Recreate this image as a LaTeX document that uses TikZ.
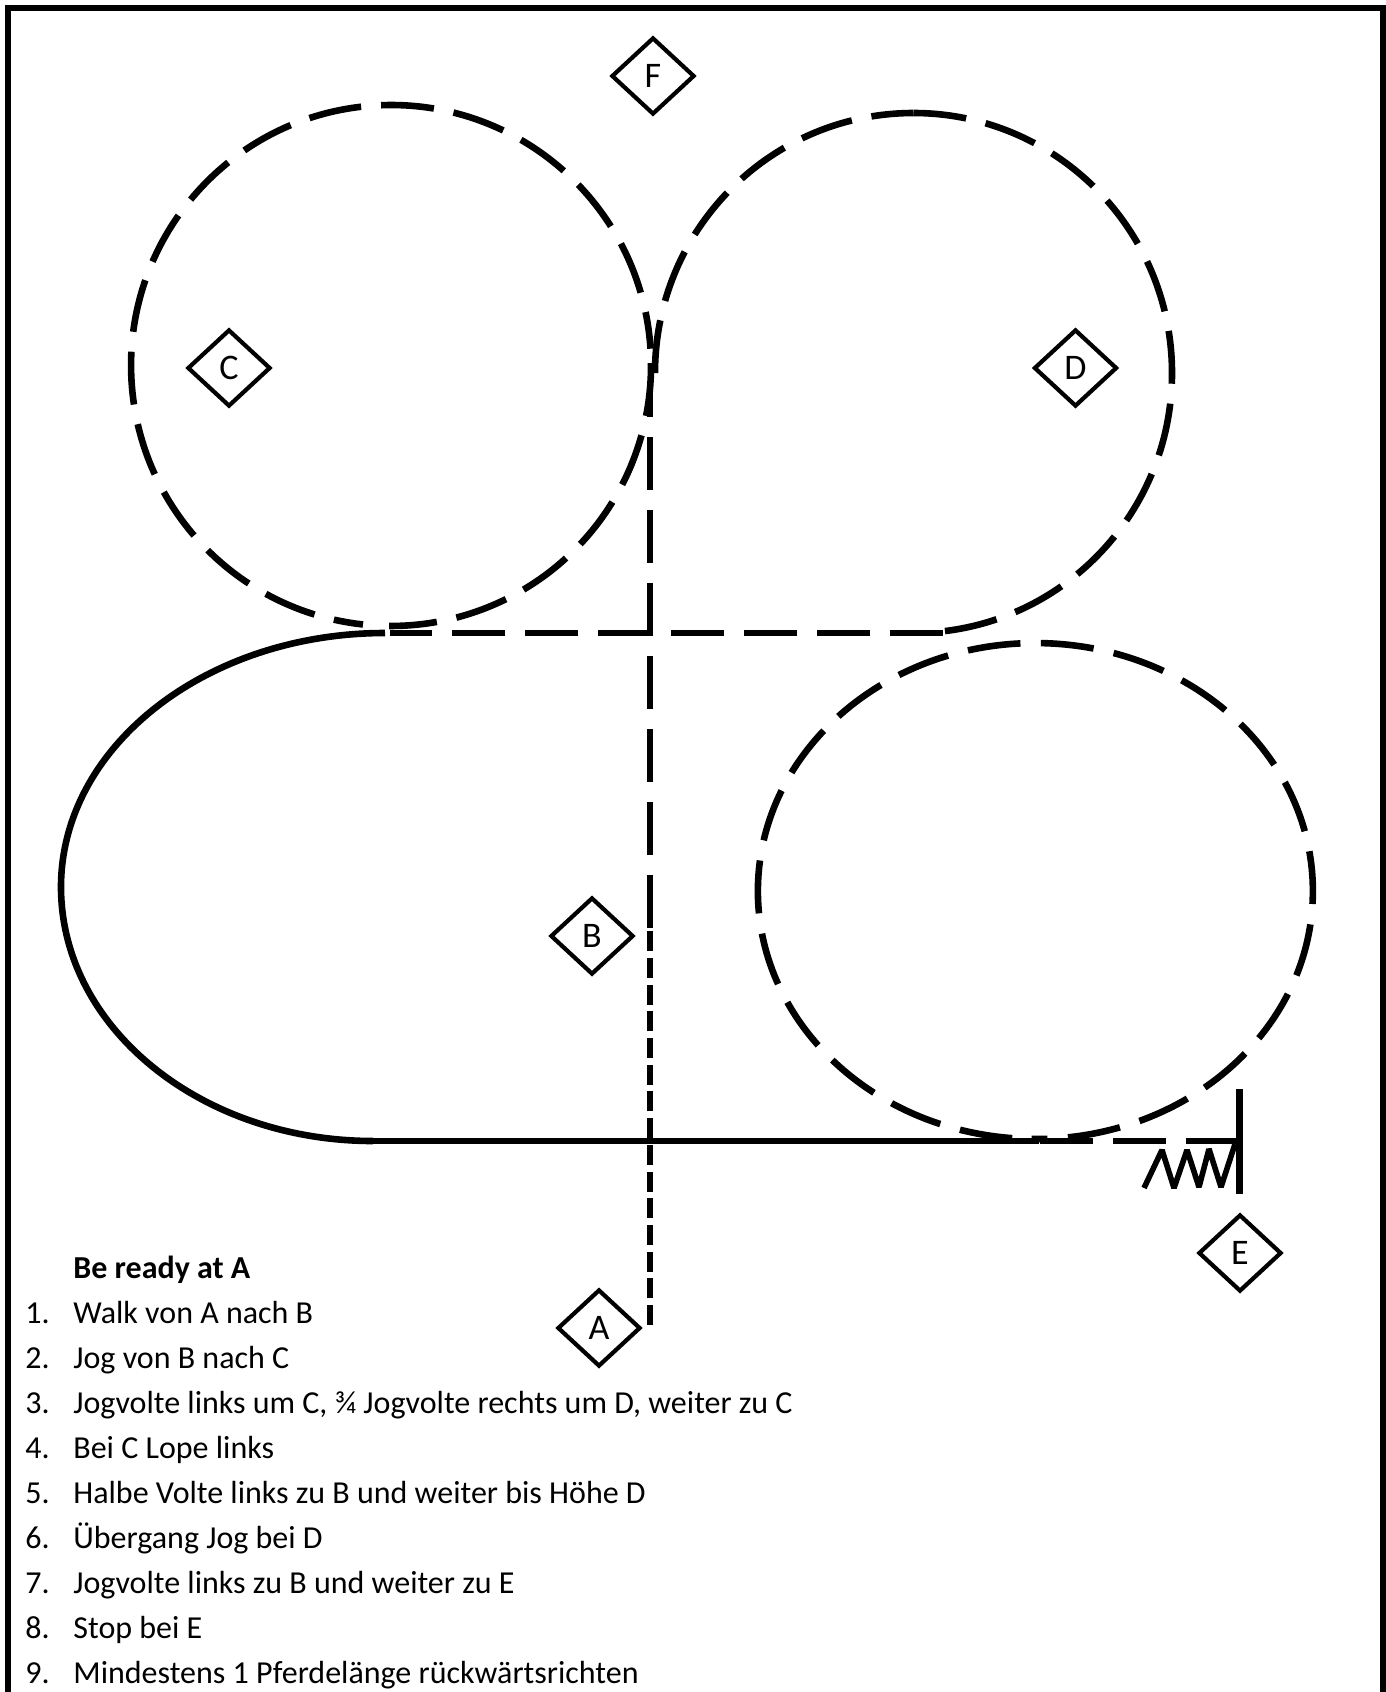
\documentclass[tikz,border=0pt]{standalone}
\usepackage{fontspec}
\setmainfont{Carlito}
\usetikzlibrary{shapes.geometric}
\tikzset{
	marker/.style={shape=diamond,draw,line width=2.1pt,minimum width=41.5pt,minimum height=38.5pt,inner sep=0pt,font=\fontsize{18}{18}\selectfont},
	longdash/.style={line width=3.3pt,dash pattern=on 26.5pt off 10pt},
	shortdash/.style={line width=3.3pt,dash pattern=on 10pt off 3.35pt},
	solidline/.style={line width=3.3pt},
	listline/.style={anchor=base west,inner sep=0pt,font=\fontsize{16}{16}\selectfont}
}
\begin{document}
\begin{tikzpicture}[x=0.5pt,y=-0.5pt,line join=miter]
	\useasboundingbox (0,0) rectangle (1386,1692);
	\draw[line width=3pt](8,1700)--(8,8)--(1383,8)--(1383,1700);
	% markers
	\node[marker] (F) at (653,76) {F};
	\node[marker] (C) at (229,368) {C};
	\node[marker] (D) at (1075.5,368) {D};
	\node[marker] (B) at (592,936) {B};
	\node[marker] (A) at (599,1328) {A};
	\node[marker] (E) at (1240,1253) {E};
	% circles
	\draw[longdash] (651,363.2) arc (-0.5:90.4:260 and 260.5);
	\draw[longdash,dash phase=8pt] (650.5,348.7) arc (-3.7:-263.8:260 and 260.5);
	\draw[longdash] (655,373) arc (180:270:258.5 and 260);
	\draw[longdash] (913.5,113) arc (270:444:258.5 and 260);
	\draw[longdash] (943,633)--(390,633);
	\draw[longdash,dash pattern=on 26.5pt off 10.25pt,dash phase=18.5pt] (1031.5,1139) arc (90.8:-265.4:277.5 and 248);
	% solid track
	\draw[solidline] (385,633) arc (-90:-180:324 and 254) arc (-180:-270:312 and 254);
	\draw[solidline] (360,1141)--(1039,1141);
	\draw[longdash] (1040,1141)--(1237,1141);
	% centre line
	\draw[shortdash] (650,1325)--(650,931);
	\draw[longdash] (650,928)--(650,393);
	% stop and back-up
	\draw[solidline] (1239.5,1089)--(1239.5,1194);
	\draw[line width=2.8pt,line join=bevel] (1144,1188)--(1162,1150)--(1174,1188)--(1187,1150)--(1199,1187)--(1209,1149)--(1221,1187)--(1235,1144);
	% text
	\node[listline] (title) at (73,1278) {\textbf{Be ready at A}};
	\foreach \n/\txt in {1/{Walk von A nach B},2/{Jog von B nach C},3/{Jogvolte links um C, ¾ Jogvolte rechts um D, weiter zu C},4/{Bei C Lope links},5/{Halbe Volte links zu B und weiter bis Höhe D},6/{Übergang Jog bei D},7/{Jogvolte links zu B und weiter zu E},8/{Stop bei E},9/{Mindestens 1 Pferdelänge rückwärtsrichten}}{
		\node[listline] (num\n) at (25,1323+45.1*\n-45.1) {\n.};
		\node[listline] (item\n) at (73,1323+45.1*\n-45.1) {\txt};
	}
\end{tikzpicture}
\end{document}
